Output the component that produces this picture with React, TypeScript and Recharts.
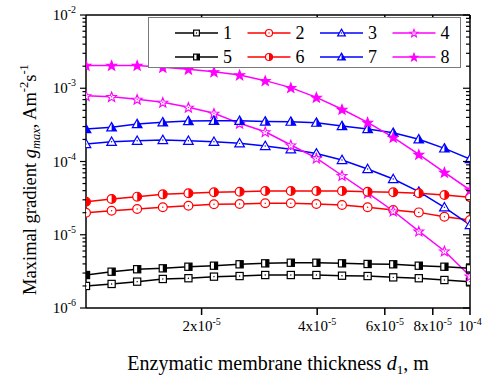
import React from 'react';
import { LineChart, Line, XAxis, YAxis } from 'recharts';

const SERIF = '"Liberation Serif", "Times New Roman", serif';

// membrane thickness d1, m (16 points, even in log)
const thickness = [
  1e-5, 1.166e-5, 1.359e-5, 1.585e-5, 1.848e-5, 2.154e-5, 2.512e-5, 2.929e-5,
  3.415e-5, 3.981e-5, 4.642e-5, 5.412e-5, 6.31e-5, 7.356e-5, 8.577e-5, 1e-4,
];

const g1 = [2.0e-6, 2.13e-6, 2.29e-6, 2.49e-6, 2.55e-6, 2.68e-6, 2.73e-6, 2.82e-6, 2.82e-6, 2.82e-6, 2.76e-6, 2.73e-6, 2.62e-6, 2.55e-6, 2.41e-6, 2.29e-6];
const g2 = [2.0e-5, 2.13e-5, 2.25e-5, 2.37e-5, 2.49e-5, 2.61e-5, 2.63e-5, 2.69e-5, 2.69e-5, 2.63e-5, 2.55e-5, 2.37e-5, 2.18e-5, 2.02e-5, 1.76e-5, 1.59e-5];
const g3 = [1.73e-4, 1.86e-4, 1.92e-4, 1.97e-4, 1.92e-4, 1.86e-4, 1.77e-4, 1.63e-4, 1.47e-4, 1.29e-4, 1.05e-4, 7.9e-5, 5.77e-5, 3.87e-5, 2.37e-5, 1.36e-5];
const g4 = [7.91e-4, 7.67e-4, 7.07e-4, 6.43e-4, 5.49e-4, 4.55e-4, 3.32e-4, 2.55e-4, 1.68e-4, 1.11e-4, 6.44e-5, 3.72e-5, 2.11e-5, 1.12e-5, 6.0e-6, 2.73e-6];
const g5 = [2.82e-6, 3.13e-6, 3.38e-6, 3.48e-6, 3.66e-6, 3.78e-6, 3.95e-6, 4.07e-6, 4.15e-6, 4.15e-6, 4.07e-6, 3.99e-6, 3.95e-6, 3.78e-6, 3.66e-6, 3.48e-6];
const g6 = [2.82e-5, 3.08e-5, 3.31e-5, 3.56e-5, 3.68e-5, 3.8e-5, 3.87e-5, 3.96e-5, 3.96e-5, 3.96e-5, 3.96e-5, 3.87e-5, 3.8e-5, 3.68e-5, 3.49e-5, 3.25e-5];
const g7 = [2.78e-4, 2.93e-4, 3.25e-4, 3.43e-4, 3.57e-4, 3.6e-4, 3.6e-4, 3.52e-4, 3.5e-4, 3.39e-4, 3.05e-4, 2.78e-4, 2.47e-4, 2.01e-4, 1.51e-4, 1.08e-4];
const g8 = [2.05e-3, 2.05e-3, 2.05e-3, 1.93e-3, 1.82e-3, 1.68e-3, 1.52e-3, 1.27e-3, 1.02e-3, 7.52e-4, 5.16e-4, 3.43e-4, 2.14e-4, 1.25e-4, 7.13e-5, 4.08e-5];

const xTicks = [2e-5, 4e-5, 6e-5, 8e-5, 1e-4];
const yMajor = [1e-6, 1e-5, 1e-4, 1e-3, 1e-2];
const yMinor = [
  2e-6, 3e-6, 4e-6, 5e-6, 6e-6, 7e-6, 8e-6, 9e-6,
  2e-5, 3e-5, 4e-5, 5e-5, 6e-5, 7e-5, 8e-5, 9e-5,
  2e-4, 3e-4, 4e-4, 5e-4, 6e-4, 7e-4, 8e-4, 9e-4,
  2e-3, 3e-3, 4e-3, 5e-3, 6e-3, 7e-3, 8e-3, 9e-3,
];

type Shape = 'square' | 'circle' | 'triangle' | 'star';
type Fill = 'open' | 'half' | 'full';

const series: { key: string; name: string; color: string; shape: Shape; fill: Fill }[] = [
  { key: 'g1', name: '1', color: '#000000', shape: 'square', fill: 'open' },
  { key: 'g2', name: '2', color: '#ff0000', shape: 'circle', fill: 'open' },
  { key: 'g3', name: '3', color: '#0000ff', shape: 'triangle', fill: 'open' },
  { key: 'g4', name: '4', color: '#ff00ff', shape: 'star', fill: 'open' },
  { key: 'g5', name: '5', color: '#000000', shape: 'square', fill: 'half' },
  { key: 'g6', name: '6', color: '#ff0000', shape: 'circle', fill: 'half' },
  { key: 'g7', name: '7', color: '#0000ff', shape: 'triangle', fill: 'half' },
  { key: 'g8', name: '8', color: '#ff00ff', shape: 'star', fill: 'full' },
];

const values: Record<string, number[]> = { g1, g2, g3, g4, g5, g6, g7, g8 };
const rows = thickness.map((x, i) => {
  const r: Record<string, number> = { x };
  series.forEach((s) => (r[s.key] = values[s.key][i]));
  return r;
});

const starPath = (cx: number, cy: number, R: number) => {
  const pts: string[] = [];
  for (let k = 0; k < 10; k++) {
    const rad = k % 2 === 0 ? R : R * 0.42;
    const a = -Math.PI / 2 + (k * Math.PI) / 5;
    pts.push(`${cx + rad * Math.cos(a)},${cy + rad * Math.sin(a)}`);
  }
  return 'M' + pts.join('L') + 'Z';
};

const Marker = ({ cx, cy, shape, fill, color, scale = 1 }: any) => {
  if (cx == null || cy == null) return null;
  const sw = 1.2;
  const bg = fill === 'full' ? color : '#fff';
  const dotC = fill === 'open' ? <circle cx={cx} cy={cy} r={0.7} fill={color} /> : null;
  if (shape === 'square') {
    const h = 3.6 * scale;
    return (
      <g>
        <rect x={cx - h} y={cy - h} width={2 * h} height={2 * h} fill={bg} stroke={color} strokeWidth={sw} />
        {fill === 'half' && <rect x={cx} y={cy - h} width={h} height={2 * h} fill={color} />}
        {dotC}
      </g>
    );
  }
  if (shape === 'circle') {
    const r = 4.4 * scale;
    return (
      <g>
        <circle cx={cx} cy={cy} r={r} fill={bg} stroke={color} strokeWidth={sw} />
        {fill === 'half' && <path d={`M${cx},${cy - r}A${r},${r} 0 0 1 ${cx},${cy + r}Z`} fill={color} />}
        {dotC}
      </g>
    );
  }
  if (shape === 'triangle') {
    const h = 4.8 * scale;
    const top = cy - h;
    const bot = cy + h * 0.75;
    return (
      <g>
        <path d={`M${cx},${top}L${cx + h},${bot}L${cx - h},${bot}Z`} fill={bg} stroke={color} strokeWidth={sw} strokeLinejoin="miter" />
        {fill === 'half' && <path d={`M${cx},${top}L${cx + h},${bot}L${cx},${bot}Z`} fill={color} />}
        {dotC}
      </g>
    );
  }
  return (
    <g>
      <path d={starPath(cx, cy + 0.5, 5.2 * scale)} fill={bg} stroke={color} strokeWidth={sw * 0.9} />
      {dotC}
    </g>
  );
};

const isMajor = (v: number) => {
  const lg = Math.log10(v);
  return Math.abs(lg - Math.round(lg)) < 1e-6;
};

const LeftTick = ({ x, y, payload }: any) => {
  const v = payload.value;
  const major = isMajor(v);
  return (
    <g>
      <line x1={x} x2={x - (major ? 6 : 3.5)} y1={y} y2={y} stroke="#000" strokeWidth={1.2} />
      {major && (
        <text x={x - 10} y={y + 5} textAnchor="end" fontSize={15} fontFamily={SERIF} fill="#000">
          10<tspan dy={-7} fontSize={10}>{String(Math.round(Math.log10(v)))}</tspan>
        </text>
      )}
    </g>
  );
};

const RightTick = ({ x, y, payload }: any) => {
  const major = isMajor(payload.value);
  return <line x1={x} x2={x - (major ? 7 : 4)} y1={y} y2={y} stroke="#000" strokeWidth={1.2} />;
};

const BottomTick = ({ x, y, payload }: any) => {
  const v = payload.value;
  const exp = Math.floor(Math.log10(v) + 1e-9);
  const mant = Math.round(v / Math.pow(10, exp));
  return (
    <g>
      <line x1={x} x2={x} y1={y} y2={y + 7} stroke="#000" strokeWidth={1.5} />
      <text x={x} y={y + 23} textAnchor="middle" fontSize={15} fontFamily={SERIF} fill="#000">
        {mant === 1 ? '10' : `${mant}x10`}
        <tspan dy={-6} fontSize={10}>{String(exp)}</tspan>
      </text>
    </g>
  );
};

const TopTick = ({ x, y }: any) => <line x1={x} x2={x} y1={y} y2={y + 4} stroke="#000" strokeWidth={1.5} />;

const XTitle = ({ viewBox }: any) => {
  const vb = viewBox || { x: 86, y: 308, width: 384, height: 72 };
  return (
    <text x={vb.x + vb.width / 2} y={vb.y + 62} textAnchor="middle" fontSize={20} fontFamily={SERIF} fill="#000">
      {'Enzymatic membrane thickness '}
      <tspan fontStyle="italic">d</tspan>
      <tspan fontSize={13} dy={4}>1</tspan>
      <tspan dy={-4}>, m</tspan>
    </text>
  );
};

const YTitle = ({ viewBox }: any) => {
  const vb = viewBox || { x: 0, y: 15, width: 86, height: 293 };
  const cx = vb.x + 36;
  const cy = vb.y + vb.height / 2 + 18;
  return (
    <text x={cx} y={cy} transform={`rotate(-90, ${cx}, ${cy})`} textAnchor="middle" fontSize={18.5} fontFamily={SERIF} fill="#000">
      {'Maximal gradient '}
      <tspan fontStyle="italic">g</tspan>
      <tspan fontStyle="italic" fontSize={12.5} dy={4}>max</tspan>
      <tspan dy={-4}>, Am</tspan>
      <tspan fontSize={12.5} dy={-8}>-2</tspan>
      <tspan dy={8}>s</tspan>
      <tspan fontSize={12.5} dy={-8}>-1</tspan>
    </text>
  );
};

const LegendBox = () => (
  <div
    style={{
      position: 'absolute',
      left: 148,
      top: 17,
      width: 313,
      height: 51,
      background: '#fff',
      border: '1px solid #7a7a7a',
      boxSizing: 'border-box',
    }}
  >
    <svg width={311} height={49} style={{ display: 'block' }}>
      {series.map((s, i) => {
        const x0 = 26 + (i % 4) * 72.5;
        const y0 = 15 + Math.floor(i / 4) * 24;
        return (
          <g key={s.key}>
            <line x1={x0} x2={x0 + 43} y1={y0} y2={y0} stroke={s.color} strokeWidth={1.5} />
            <Marker cx={x0 + 21.5} cy={y0} shape={s.shape} fill={s.fill} color={s.color} scale={0.8} />
            <text x={x0 + 48} y={y0 + 6} fontSize={18} fontFamily={SERIF} fill="#000">
              {s.name}
            </text>
          </g>
        );
      })}
    </svg>
  </div>
);

export default function App() {
  const axisLine = { stroke: '#000', strokeWidth: 1.5 };
  return (
    <div style={{ position: 'absolute', left: 0, top: 0, width: 484, height: 380, background: '#fff' }}>
      <LineChart width={484} height={380} data={rows} margin={{ top: 0, right: 0, bottom: 0, left: 0 }}>
        <XAxis
          xAxisId="b"
          dataKey="x"
          type="number"
          scale="log"
          domain={[1e-5, 1e-4]}
          allowDataOverflow
          ticks={xTicks}
          interval={0}
          height={72}
          tickSize={0}
          tickMargin={0}
          tick={<BottomTick />}
          axisLine={axisLine}
          label={<XTitle />}
        />
        <XAxis
          xAxisId="t"
          orientation="top"
          dataKey="x"
          type="number"
          scale="log"
          domain={[1e-5, 1e-4]}
          allowDataOverflow
          ticks={xTicks}
          interval={0}
          height={15}
          tickSize={0}
          tickMargin={0}
          tick={<TopTick />}
          axisLine={axisLine}
        />
        <YAxis
          yAxisId="l"
          type="number"
          scale="log"
          domain={[1e-6, 1e-2]}
          allowDataOverflow
          ticks={[...yMajor, ...yMinor]}
          interval={0}
          width={86}
          tickSize={0}
          tickMargin={0}
          tick={<LeftTick />}
          axisLine={axisLine}
          label={<YTitle />}
        />
        <YAxis
          yAxisId="r"
          orientation="right"
          type="number"
          scale="log"
          domain={[1e-6, 1e-2]}
          allowDataOverflow
          ticks={[...yMajor, ...yMinor]}
          interval={0}
          width={14}
          tickSize={0}
          tickMargin={0}
          tick={<RightTick />}
          axisLine={axisLine}
        />
        {series.map((s) => (
          <Line
            key={s.key}
            xAxisId="b"
            yAxisId="l"
            dataKey={s.key}
            type="linear"
            stroke={s.color}
            strokeWidth={1.5}
            isAnimationActive={false}
            dot={(p: any) => (
              <Marker key={`${s.key}-${p.index}`} cx={p.cx} cy={p.cy} shape={s.shape} fill={s.fill} color={s.color} />
            )}
            activeDot={false}
          />
        ))}
      </LineChart>
      <LegendBox />
    </div>
  );
}
